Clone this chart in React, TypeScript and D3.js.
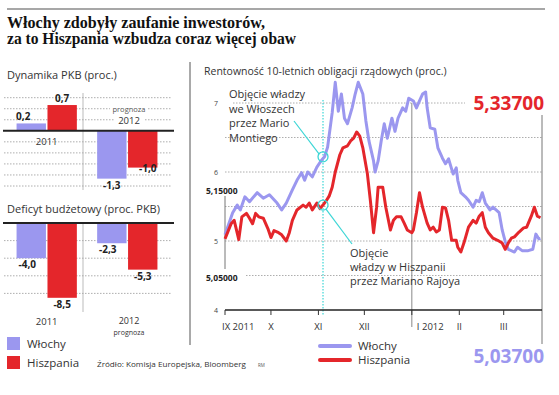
import { useEffect, useRef } from 'react';
import * as d3 from 'd3';

// GDP dynamics (proc.)
const gdpYears = ['2011', '2012'];
const gdpItaly = [0.2, -1.3];
const gdpSpain = [0.7, -1.0];

// Budget deficit (proc. PKB)
const deficitItaly = [-4.0, -2.3];
const deficitSpain = [-8.5, -5.3];

const monthTicks = ['2011-09-01', '2011-10-01', '2011-11-01', '2011-12-01', '2012-01-01', '2012-02-01', '2012-03-01'];
const monthLabels = ['IX 2011', 'X', 'XI', 'XII', 'I 2012', 'II', 'III'];
const yieldTicks = [4, 5, 6, 7];

const italyYield: [string, number][] = [
  ['2011-09-01', 5.09], ['2011-09-06', 5.41], ['2011-09-09', 5.52], ['2011-09-11', 5.45],
  ['2011-09-14', 5.64], ['2011-09-17', 5.57], ['2011-09-22', 5.70], ['2011-09-26', 5.62],
  ['2011-09-30', 5.67], ['2011-10-05', 5.55], ['2011-10-08', 5.45], ['2011-10-11', 5.55],
  ['2011-10-15', 5.74], ['2011-10-18', 5.88], ['2011-10-21', 5.99], ['2011-10-23', 5.88],
  ['2011-10-25', 6.00], ['2011-10-28', 5.93], ['2011-10-31', 6.07], ['2011-11-03', 6.17],
  ['2011-11-05', 6.22], ['2011-11-07', 6.36], ['2011-11-10', 6.86], ['2011-11-12', 7.30],
  ['2011-11-14', 6.88], ['2011-11-16', 7.13], ['2011-11-18', 6.78], ['2011-11-20', 6.70],
  ['2011-11-23', 6.93], ['2011-11-25', 7.13], ['2011-11-27', 7.30], ['2011-11-30', 7.13],
  ['2011-12-02', 6.74], ['2011-12-04', 6.45], ['2011-12-07', 6.16], ['2011-12-08', 6.00],
  ['2011-12-10', 6.16], ['2011-12-12', 6.45], ['2011-12-14', 6.70], ['2011-12-16', 6.49],
  ['2011-12-19', 6.78], ['2011-12-21', 6.59], ['2011-12-23', 6.78], ['2011-12-26', 6.93],
  ['2011-12-28', 6.88], ['2011-12-30', 7.07], ['2012-01-02', 7.03], ['2012-01-04', 6.93],
  ['2012-01-06', 7.03], ['2012-01-08', 7.13], ['2012-01-10', 7.16], ['2012-01-11', 6.93],
  ['2012-01-13', 6.64], ['2012-01-16', 6.62], ['2012-01-18', 6.35], ['2012-01-21', 6.20],
  ['2012-01-23', 6.12], ['2012-01-25', 6.19], ['2012-01-28', 5.97], ['2012-01-30', 6.06],
  ['2012-01-31', 5.88], ['2012-02-02', 5.70], ['2012-02-05', 5.64], ['2012-02-07', 5.59],
  ['2012-02-10', 5.49], ['2012-02-12', 5.59], ['2012-02-14', 5.57], ['2012-02-16', 5.70],
  ['2012-02-18', 5.55], ['2012-02-21', 5.45], ['2012-02-23', 5.49], ['2012-02-27', 5.41],
  ['2012-02-29', 5.16], ['2012-03-02', 4.99], ['2012-03-04', 4.88], ['2012-03-08', 4.84],
  ['2012-03-10', 4.91], ['2012-03-13', 4.86], ['2012-03-17', 4.86], ['2012-03-20', 4.88],
  ['2012-03-22', 5.10], ['2012-03-24', 5.03], ['2012-03-25', 5.037],
];

const spainYield: [string, number][] = [
  ['2011-09-01', 5.03], ['2011-09-05', 5.25], ['2011-09-07', 5.30], ['2011-09-10', 5.02],
  ['2011-09-12', 5.35], ['2011-09-15', 5.40], ['2011-09-17', 5.33], ['2011-09-19', 5.25],
  ['2011-09-21', 5.40], ['2011-09-23', 5.35], ['2011-09-26', 5.33], ['2011-09-29', 5.18],
  ['2011-10-01', 5.05], ['2011-10-03', 5.15], ['2011-10-06', 5.12], ['2011-10-08', 5.09],
  ['2011-10-11', 5.00], ['2011-10-13', 5.12], ['2011-10-15', 5.30], ['2011-10-18', 5.45],
  ['2011-10-22', 5.52], ['2011-10-24', 5.49], ['2011-10-26', 5.55], ['2011-10-28', 5.45],
  ['2011-10-31', 5.55], ['2011-11-02', 5.47], ['2011-11-04', 5.52], ['2011-11-06', 5.58],
  ['2011-11-08', 5.65], ['2011-11-10', 5.78], ['2011-11-12', 6.00], ['2011-11-15', 6.25],
  ['2011-11-17', 6.35], ['2011-11-20', 6.38], ['2011-11-22', 6.45], ['2011-11-24', 6.49],
  ['2011-11-26', 6.58], ['2011-11-28', 6.52], ['2011-11-30', 6.35], ['2011-12-03', 5.97],
  ['2011-12-05', 5.57], ['2011-12-07', 5.12], ['2011-12-09', 5.49], ['2011-12-10', 5.78],
  ['2011-12-13', 5.78], ['2011-12-15', 5.49], ['2011-12-18', 5.16], ['2011-12-20', 5.30],
  ['2011-12-22', 5.35], ['2011-12-25', 5.35], ['2011-12-27', 5.26], ['2011-12-29', 5.16],
  ['2012-01-01', 5.12], ['2012-01-02', 5.16], ['2012-01-04', 5.41], ['2012-01-06', 5.70],
  ['2012-01-08', 5.49], ['2012-01-11', 5.26], ['2012-01-13', 5.16], ['2012-01-15', 5.20],
  ['2012-01-17', 5.13], ['2012-01-19', 5.16], ['2012-01-21', 5.49], ['2012-01-23', 5.48],
  ['2012-01-25', 5.30], ['2012-01-27', 5.01], ['2012-01-30', 5.01], ['2012-01-31', 4.91],
  ['2012-02-02', 4.84], ['2012-02-04', 4.97], ['2012-02-07', 5.20], ['2012-02-10', 5.30],
  ['2012-02-12', 5.26], ['2012-02-14', 5.36], ['2012-02-16', 5.41], ['2012-02-18', 5.20],
  ['2012-02-20', 5.12], ['2012-02-23', 5.04], ['2012-02-26', 5.01], ['2012-02-29', 4.97],
  ['2012-03-02', 4.88], ['2012-03-04', 4.97], ['2012-03-06', 5.04], ['2012-03-08', 5.06],
  ['2012-03-11', 5.13], ['2012-03-14', 5.19], ['2012-03-16', 5.20], ['2012-03-19', 5.36],
  ['2012-03-21', 5.49], ['2012-03-23', 5.36], ['2012-03-25', 5.337],
];

const montiDate = '2011-11-04';

const PURPLE = '#9b97ef';
const RED = '#e4262b';
const CYAN = '#3cd6d6';
const SANS = '"Open Sans", "Noto Sans", sans-serif';

export default function App() {
  const svgRef = useRef<SVGSVGElement>(null);

  useEffect(() => {
    if (!svgRef.current) return;
    const svg = d3.select(svgRef.current);
    svg.selectAll('*').remove();

    // Header
    svg.append('line')
      .attr('x1', 7).attr('x2', 545).attr('y1', 9).attr('y2', 9)
      .attr('stroke', '#8a8a8a').attr('stroke-width', 1.5);
    const titles = ['Włochy zdobyły zaufanie inwestorów,', 'za to Hiszpania wzbudza coraz więcej obaw'];
    const titleLens = [258, 289];
    titles.forEach((t, i) => {
      svg.append('text')
        .attr('x', 7).attr('y', 28 + i * 16)
        .attr('font-family', '"Liberation Serif", "DejaVu Serif", serif')
        .attr('font-weight', 'bold').attr('font-size', 16)
        .attr('textLength', titleLens[i]).attr('lengthAdjust', 'spacingAndGlyphs')
        .attr('fill', '#111')
        .text(t);
    });

    // Separator between left and right panels
    svg.append('line')
      .attr('x1', 190).attr('x2', 190).attr('y1', 62).attr('y2', 345)
      .attr('stroke', '#555').attr('stroke-width', 1);

    const dots = '1.5,1.5';

    // ---------- Small bar charts ----------
    const xGroup = d3.scaleBand().domain(gdpYears).range([4, 170]).paddingInner(0.06).paddingOuter(0.06);
    const xSeries = d3.scaleBand().domain(['it', 'es']).range([0, xGroup.bandwidth()]).paddingInner(0.05).paddingOuter(0.25);

    function barPanel(opts: {
      title: string; titleY: number; y: d3.ScaleLinear<number, number>;
      grid: number[]; italy: number[]; spain: number[]; divTop: number; divBottom: number;
    }) {
      const { y } = opts;
      svg.append('text')
        .attr('x', 7).attr('y', opts.titleY)
        .attr('font-family', SANS).attr('font-size', 11).attr('fill', '#333')
        .text(opts.title);
      opts.grid.forEach(v => {
        svg.append('line')
          .attr('x1', 4).attr('x2', 172).attr('y1', y(v)).attr('y2', y(v))
          .attr('stroke', '#999').attr('stroke-width', 0.8).attr('stroke-dasharray', dots);
      });
      svg.append('line')
        .attr('x1', 83).attr('x2', 83).attr('y1', opts.divTop).attr('y2', opts.divBottom)
        .attr('stroke', '#aaa').attr('stroke-width', 0.8);
      gdpYears.forEach((yr, i) => {
        const gx = xGroup(yr)!;
        [['it', opts.italy[i], PURPLE], ['es', opts.spain[i], RED]].forEach(([k, v, c]) => {
          const val = v as number;
          svg.append('rect')
            .attr('x', gx + xSeries(k as string)!)
            .attr('width', xSeries.bandwidth())
            .attr('y', Math.min(y(0), y(val)))
            .attr('height', Math.abs(y(val) - y(0)))
            .attr('fill', c as string);
        });
      });
      svg.append('line')
        .attr('x1', 3).attr('x2', 174).attr('y1', y(0)).attr('y2', y(0))
        .attr('stroke', '#222').attr('stroke-width', 2);
    }

    const fmt = (v: number) => d3.format('.1f')(v).replace('.', ',').replace('−', '-');

    // GDP
    const yGdp = d3.scaleLinear().domain([-1.5, 1]).range([186, 94]);
    barPanel({
      title: 'Dynamika PKB (proc.)', titleY: 79, y: yGdp,
      grid: [0.9, 0.6, 0.3, -0.3, -0.6, -0.9, -1.2, -1.5],
      italy: gdpItaly, spain: gdpSpain, divTop: 93, divBottom: 190,
    });
    gdpYears.forEach((yr, i) => {
      const gx = xGroup(yr)!;
      [[gdpItaly[i], 'it'], [gdpSpain[i], 'es']].forEach(([v, k]) => {
        const val = v as number;
        const cx = gx + xSeries(k as string)! + xSeries.bandwidth() / 2;
        let ly = val >= 0 ? yGdp(val) - 3 : yGdp(val) + 10;
        let lx = cx;
        if (k === 'it' && val >= 0) lx = cx - 8;
        if (k === 'es' && val < 0) { lx = cx + 5; ly = yGdp(val) + 4; }
        svg.append('text')
          .attr('x', lx).attr('y', ly).attr('text-anchor', 'middle')
          .attr('font-family', SANS).attr('font-weight', 'bold').attr('font-size', 10).attr('fill', '#222')
          .text(fmt(val));
      });
    });
    svg.append('text')
      .attr('x', xGroup('2011')! + xGroup.bandwidth() / 2).attr('y', 145).attr('text-anchor', 'middle')
      .attr('font-family', SANS).attr('font-size', 9.5).attr('fill', '#333').text('2011');
    svg.append('rect').attr('x', 110).attr('y', 104).attr('width', 38).attr('height', 9).attr('fill', '#fff');
    svg.append('text')
      .attr('x', 129).attr('y', 112).attr('text-anchor', 'middle')
      .attr('font-family', SANS).attr('font-size', 7.5).attr('fill', '#555').text('prognoza');
    svg.append('rect').attr('x', 114).attr('y', 115).attr('width', 30).attr('height', 10).attr('fill', '#fff');
    svg.append('text')
      .attr('x', 129).attr('y', 124).attr('text-anchor', 'middle')
      .attr('font-family', SANS).attr('font-size', 9.5).attr('fill', '#333').text('2012');

    // Deficit
    const yDef = d3.scaleLinear().domain([-10, 0]).range([311, 223]);
    barPanel({
      title: 'Deficyt budżetowy (proc. PKB)', titleY: 213, y: yDef,
      grid: [-2, -4, -6, -8], italy: deficitItaly, spain: deficitSpain, divTop: 223, divBottom: 312,
    });
    gdpYears.forEach((yr, i) => {
      const gx = xGroup(yr)!;
      [[deficitItaly[i], 'it'], [deficitSpain[i], 'es']].forEach(([v, k]) => {
        const val = v as number;
        const cx = gx + xSeries(k as string)! + xSeries.bandwidth() / 2;
        svg.append('text')
          .attr('x', cx + (k === 'it' ? -4 : 0)).attr('y', yDef(val) + 10).attr('text-anchor', 'middle')
          .attr('font-family', SANS).attr('font-weight', 'bold').attr('font-size', 10).attr('fill', '#222')
          .text(fmt(val));
      });
    });
    svg.append('text')
      .attr('x', xGroup('2011')! + xGroup.bandwidth() / 2).attr('y', 325).attr('text-anchor', 'middle')
      .attr('font-family', SANS).attr('font-size', 9.5).attr('fill', '#333').text('2011');
    svg.append('text')
      .attr('x', 129).attr('y', 324).attr('text-anchor', 'middle')
      .attr('font-family', SANS).attr('font-size', 9).attr('fill', '#333').text('2012');
    svg.append('text')
      .attr('x', 129).attr('y', 335).attr('text-anchor', 'middle')
      .attr('font-family', SANS).attr('font-size', 7).attr('fill', '#333').text('prognoza');

    // Left legend
    [['Włochy', PURPLE], ['Hiszpania', RED]].forEach(([name, c], i) => {
      svg.append('rect').attr('x', 7).attr('y', 337 + i * 19).attr('width', 13).attr('height', 13).attr('fill', c);
      svg.append('text')
        .attr('x', 27).attr('y', 348 + i * 19)
        .attr('font-family', SANS).attr('font-size', 11.5).attr('fill', '#333').text(name);
    });
    svg.append('text')
      .attr('x', 97).attr('y', 367)
      .attr('font-family', SANS).attr('font-size', 7.5).attr('fill', '#333')
      .attr('textLength', 149).attr('lengthAdjust', 'spacingAndGlyphs')
      .text('Źródło: Komisja Europejska, Bloomberg');
    svg.append('text')
      .attr('x', 258).attr('y', 367)
      .attr('font-family', SANS).attr('font-size', 4.5).attr('fill', '#555').text('RM');

    // ---------- Line chart ----------
    const parse = d3.timeParse('%Y-%m-%d');
    const x = d3.scaleTime()
      .domain([parse('2011-09-01')!, parse('2012-03-26')!])
      .range([225, 542]);
    const y = d3.scaleLinear().domain([4, 7]).range([310, 103]);

    svg.append('text')
      .attr('x', 204).attr('y', 75)
      .attr('font-family', SANS).attr('font-size', 10.5).attr('fill', '#333')
      .text('Rentowność 10-letnich obligacji rządowych (proc.)');

    // gridlines
    [4.5, 5, 5.5, 6, 6.5].forEach(v => {
      svg.append('line')
        .attr('x1', 225).attr('x2', 542).attr('y1', y(v)).attr('y2', y(v))
        .attr('stroke', '#999').attr('stroke-width', 0.8).attr('stroke-dasharray', dots);
    });
    svg.append('line')
      .attr('x1', 233).attr('x2', 465).attr('y1', y(7)).attr('y2', y(7))
      .attr('stroke', '#999').attr('stroke-width', 0.8).attr('stroke-dasharray', dots);

    yieldTicks.forEach(v => {
      svg.append('text')
        .attr('x', 216).attr('y', y(v) + 3).attr('text-anchor', 'middle')
        .attr('font-family', SANS).attr('font-size', 7).attr('fill', '#444').text(String(v));
    });

    // Jan line and right marker line
    svg.append('line')
      .attr('x1', x(parse('2012-01-01')!)).attr('x2', x(parse('2012-01-01')!))
      .attr('y1', y(7)).attr('y2', 327)
      .attr('stroke', '#888').attr('stroke-width', 1);
    svg.append('line')
      .attr('x1', 542).attr('x2', 542).attr('y1', 115).attr('y2', 344)
      .attr('stroke', '#777').attr('stroke-width', 1);
    svg.append('line')
      .attr('x1', 225).attr('x2', 225).attr('y1', 196).attr('y2', 269)
      .attr('stroke', '#777').attr('stroke-width', 1);

    // Start value labels
    [['5,15000', 194], ['5,05000', 281]].forEach(([t, ty]) => {
      svg.append('rect').attr('x', 205).attr('y', (ty as number) - 8).attr('width', 40).attr('height', 10).attr('fill', '#fff');
      svg.append('text')
        .attr('x', 206).attr('y', ty as number)
        .attr('font-family', SANS).attr('font-weight', 'bold').attr('font-size', 8.5).attr('fill', '#222')
        .text(t as string);
    });

    // Monti marker
    const mx = x(parse(montiDate)!);
    svg.append('line')
      .attr('x1', mx).attr('x2', mx).attr('y1', 100).attr('y2', 316)
      .attr('stroke', CYAN).attr('stroke-width', 1.2).attr('stroke-dasharray', '1.5,1.5');

    // Lines
    const line = d3.line<[string, number]>()
      .x(d => x(parse(d[0])!))
      .y(d => y(d[1]))
      .curve(d3.curveLinear);
    svg.append('path')
      .attr('d', line(italyYield)!)
      .attr('fill', 'none').attr('stroke', PURPLE).attr('stroke-width', 3).attr('stroke-linejoin', 'round');
    svg.append('path')
      .attr('d', line(spainYield)!)
      .attr('fill', 'none').attr('stroke', RED).attr('stroke-width', 3).attr('stroke-linejoin', 'round');

    // X axis
    svg.append('line')
      .attr('x1', 225).attr('x2', 542).attr('y1', y(4)).attr('y2', y(4))
      .attr('stroke', '#222').attr('stroke-width', 1.5);
    monthTicks.forEach((m, i) => {
      const tx = x(parse(m)!);
      svg.append('line')
        .attr('x1', tx).attr('x2', tx).attr('y1', y(4)).attr('y2', y(4) + 5)
        .attr('stroke', '#333').attr('stroke-width', 1);
      const isJan = monthLabels[i].startsWith('I 2012');
      svg.append('text')
        .attr('x', i === 0 ? tx - 3 : isJan ? tx + 5 : tx)
        .attr('y', 330)
        .attr('text-anchor', i === 0 || isJan ? 'start' : 'middle')
        .attr('font-family', SANS).attr('font-size', 9.5).attr('fill', '#333')
        .text(monthLabels[i]);
    });

    // Annotation circles
    const itAt = italyYield.find(d => d[0] === '2011-11-05')!;
    const esAt = spainYield.find(d => d[0] === '2011-11-04')!;
    svg.append('circle').attr('cx', mx).attr('cy', y(itAt[1])).attr('r', 5)
      .attr('fill', 'none').attr('stroke', CYAN).attr('stroke-width', 1.3);
    svg.append('circle').attr('cx', mx).attr('cy', y(esAt[1])).attr('r', 5)
      .attr('fill', 'none').attr('stroke', CYAN).attr('stroke-width', 1.3);
    svg.append('line')
      .attr('x1', 294).attr('y1', 121).attr('x2', mx - 4).attr('y2', y(itAt[1]) - 3)
      .attr('stroke', CYAN).attr('stroke-width', 1.2);
    svg.append('line')
      .attr('x1', mx + 3).attr('y1', y(esAt[1]) + 4).attr('x2', 352).attr('y2', 244)
      .attr('stroke', CYAN).attr('stroke-width', 1.2);

    ['Objęcie władzy', 'we Włoszech', 'przez Mario', 'Montiego'].forEach((t, i) => {
      svg.append('text')
        .attr('x', 229).attr('y', 98 + i * 14.5)
        .attr('font-family', SANS).attr('font-size', 11).attr('fill', '#333').text(t);
    });
    ['Objęcie', 'władzy w Hiszpanii', 'przez Mariano Rajoya'].forEach((t, i) => {
      svg.append('text')
        .attr('x', 350).attr('y', 257 + i * 14)
        .attr('font-family', SANS).attr('font-size', 11).attr('fill', '#333').text(t);
    });

    // End value labels
    svg.append('text')
      .attr('x', 544).attr('y', 110).attr('text-anchor', 'end')
      .attr('font-family', SANS).attr('font-weight', 'bold').attr('font-size', 19).attr('fill', RED)
      .text(d3.format('.5f')(spainYield[spainYield.length - 1][1]).replace('.', ','));
    svg.append('text')
      .attr('x', 544).attr('y', 363).attr('text-anchor', 'end')
      .attr('font-family', SANS).attr('font-weight', 'bold').attr('font-size', 19).attr('fill', PURPLE)
      .text(d3.format('.5f')(italyYield[italyYield.length - 1][1]).replace('.', ','));

    // Bottom legend
    [['Włochy', PURPLE], ['Hiszpania', RED]].forEach(([name, c], i) => {
      svg.append('line')
        .attr('x1', 320).attr('x2', 350).attr('y1', 346 + i * 14).attr('y2', 346 + i * 14)
        .attr('stroke', c).attr('stroke-width', 4).attr('stroke-linecap', 'round');
      svg.append('text')
        .attr('x', 358).attr('y', 350 + i * 14)
        .attr('font-family', SANS).attr('font-size', 11.5).attr('fill', '#333').text(name);
    });
  }, []);

  return (
    <svg
      ref={svgRef}
      width={559}
      height={395}
      style={{ position: 'absolute', left: 0, top: 0, background: '#fff' }}
    />
  );
}
